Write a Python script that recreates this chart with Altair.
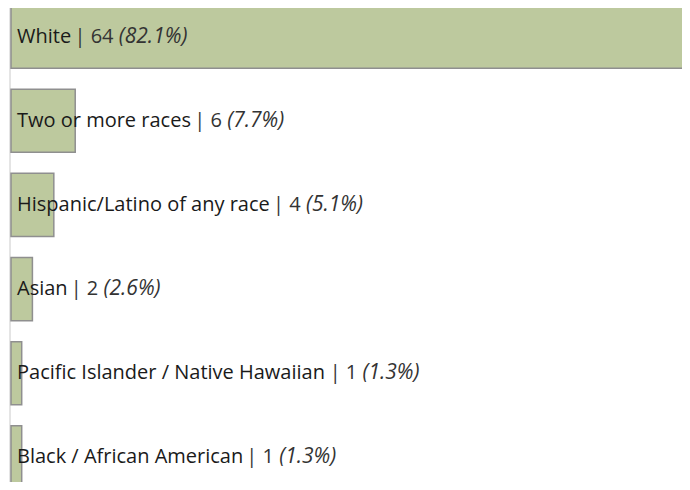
import altair as alt
import pandas as pd

categories = [
    "White",
    "Two or more races",
    "Hispanic/Latino of any race",
    "Asian",
    "Pacific Islander / Native Hawaiian",
    "Black / African American",
]
counts = [64, 6, 4, 2, 1, 1]
percents = [82.1, 7.7, 5.1, 2.6, 1.3, 1.3]

FONT = "Open Sans"
FSIZE = 20

# approximate Open Sans advance widths (units per 2048 em)
_W = {
    " ": 532, "/": 758, "|": 1128, "A": 1296, "B": 1327, "H": 1511, "I": 618,
    "L": 1087, "N": 1636, "P": 1247, "T": 1150, "W": 1931, "a": 1139, "b": 1255,
    "c": 975, "d": 1255, "e": 1149, "f": 694, "g": 1122, "h": 1257, "i": 518,
    "k": 1075, "l": 518, "m": 1905, "n": 1257, "o": 1237, "p": 1255, "r": 836,
    "s": 977, "t": 723, "v": 1026, "w": 1593, "y": 1024,
}


def text_width(s):
    return sum(_W.get(ch, 1171) for ch in s) / 2048 * FSIZE


x_start = 9
rows = []
for cat, n, p in zip(categories, counts, percents):
    part2 = f"| {n}"
    part3 = f"({p:.1f}%)"
    x2 = x_start + text_width(cat) + 3
    x3 = x2 + text_width(part2 + " ")
    rows.append(dict(cat=cat, n=n, part1=cat, part2=part2, part3=part3,
                     x1=x_start, x2=x2, x3=x3))
df = pd.DataFrame(rows)

W, H = 674, 474
yscale = alt.Scale(domain=categories, range=[-3, 481], paddingInner=0.25, paddingOuter=0)
y = alt.Y("cat:N", scale=yscale, axis=None, sort=categories)

base = alt.Chart(df)

guide = base.mark_rule(color="#e4e4e4", strokeWidth=1).encode(
    x=alt.value(2), y=alt.value(0), y2=alt.value(H)
)

bars = base.mark_bar(color="#bdc99e", stroke="#8f8f8f", strokeWidth=1.5).encode(
    x=alt.X("n:Q", scale=alt.Scale(domain=[0, 64], range=[3, 688]), axis=None),
    y=y,
)

t1 = base.mark_text(align="left", baseline="middle", font=FONT, fontSize=FSIZE,
                    color="#1a1a1a").encode(
    x=alt.X("x1:Q", scale=None), y=y, text="part1:N")
t2 = base.mark_text(align="left", baseline="middle", font=FONT, fontSize=FSIZE,
                    color="#333333").encode(
    x=alt.X("x2:Q", scale=None), y=y, text="part2:N")
t3 = base.mark_text(align="left", baseline="middle", font=FONT, fontSize=FSIZE + 1,
                    fontStyle="italic", color="#333333").encode(
    x=alt.X("x3:Q", scale=None), y=y, text="part3:N")

chart = (
    alt.layer(guide, bars, t1, t2, t3)
    .resolve_scale(x="independent")
    .properties(width=W, height=H, autosize="none", padding=0)
    .configure_view(stroke=None)
)

chart.save("out.html", embed_options={"renderer": "svg", "actions": False})
